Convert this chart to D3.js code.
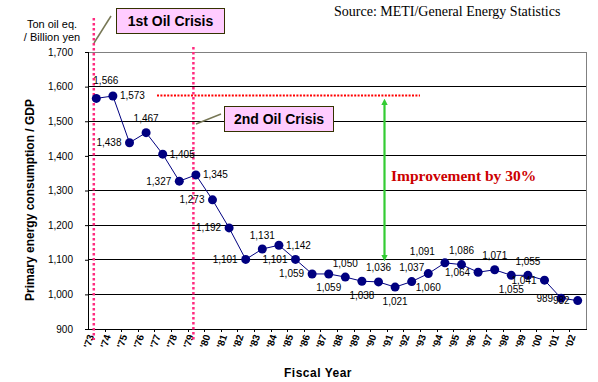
<!DOCTYPE html>
<html><head><meta charset="utf-8">
<script src="https://cdn.jsdelivr.net/npm/d3@7"></script>
<style>
html,body{margin:0;padding:0;background:#fff;}
svg{display:block;font-family:"Liberation Sans",Arial,sans-serif;}
</style></head>
<body>
<script>
// ---- data ----
const years = ["'73","'74","'75","'76","'77","'78","'79","'80","'81","'82","'83","'84","'85","'86","'87","'88","'89","'90","'91","'92","'93","'94","'95","'96","'97","'98","'99","'00","'01","'02"];
const values = [1566,1573,1438,1467,1405,1327,1345,1273,1192,1101,1131,1142,1101,1059,1059,1050,1038,1036,1021,1037,1060,1091,1086,1064,1071,1055,1055,1041,989,982];
const labelPlacement = ["tr","r","l","t","r","l","r","l","l","l","t","r","l","l","b","t","b","t","b","t","b","tl","t","l","t","b","t","l","l","l"];
const yTicks = [900,1000,1100,1200,1300,1400,1500,1600,1700];
const crisisYears = ["'73","'79"];
const crisisLabels = ["1st Oil Crisis","2nd Oil Crisis"];
const baseYear = "'74";
const targetYear = "'90";

const W = 598, H = 382;
const SERIF = '"Liberation Serif","Times New Roman",serif';
const svg = d3.select("body").append("svg").attr("width",W).attr("height",H);

const x = d3.scaleBand().domain(years).range([88,586]).padding(0);
const y = d3.scaleLinear().domain([900,1700]).range([329,52]);
const cx = d => x(d) + x.bandwidth()/2;
const fmt = d3.format(",");

// grid lines
svg.append("g").selectAll("line").data(yTicks.filter(v=>v>900)).join("line")
  .attr("x1",88).attr("x2",586).attr("y1",d=>y(d)).attr("y2",d=>y(d))
  .attr("stroke",d=>d===1700?"#808080":"#000").attr("stroke-width",1)
  .attr("shape-rendering","crispEdges");
// right border
svg.append("line").attr("x1",586).attr("x2",586).attr("y1",y(1700)).attr("y2",y(900))
  .attr("stroke","#808080").attr("shape-rendering","crispEdges");

// y axis
const yAxis = d3.axisLeft(y).tickValues(yTicks).tickFormat(fmt).tickSize(3).tickPadding(12);
const ga = svg.append("g").attr("transform","translate(88,0)").call(yAxis);
ga.attr("font-family",null);
ga.select(".domain").attr("stroke","#000").attr("shape-rendering","crispEdges");
ga.selectAll("text").attr("font-size",10).attr("fill","#000");
ga.selectAll(".tick line").attr("stroke","#000");

// x axis
const xAxis = d3.axisBottom(x).tickSize(0).tickFormat(d=>d);
const gx = svg.append("g").attr("transform","translate(0,329)").call(xAxis);
gx.attr("font-family",null);
gx.select(".domain").attr("stroke","#000").attr("shape-rendering","crispEdges");
gx.selectAll(".tick text").attr("font-size",10).attr("font-weight","bold").attr("fill","#000")
  .attr("text-anchor","end").attr("dy",null).attr("y",0)
  .attr("transform","translate(-2,7) rotate(-72)");
// band-boundary ticks
svg.append("g").selectAll("line").data(years.slice(1)).join("line")
  .attr("x1",d=>Math.round(x(d))+0.5).attr("x2",d=>Math.round(x(d))+0.5)
  .attr("y1",329).attr("y2",332).attr("stroke","#000");

// crisis vertical dotted lines
svg.append("g").selectAll("line").data(crisisYears).join("line")
  .attr("x1",d=>cx(d)-2.5).attr("x2",d=>cx(d)-2.5)
  .attr("y1",(d,i)=>i===0?18:47).attr("y2",340)
  .attr("stroke","#ff2a7f").attr("stroke-width",2.5).attr("stroke-dasharray","2.5,2.5");

// horizontal red dotted line at base level
svg.append("line").attr("x1",157).attr("x2",420)
  .attr("y1",y(values[years.indexOf(baseYear)])-0.5).attr("y2",y(values[years.indexOf(baseYear)])-0.5)
  .attr("stroke","#ff0000").attr("stroke-width",2).attr("stroke-dasharray","2,1.4");

// green double arrow
const defs = svg.append("defs");
defs.append("marker").attr("id","ah").attr("viewBox","0 0 10 10").attr("refX",5).attr("refY",5)
  .attr("markerWidth",3).attr("markerHeight",3).attr("orient","auto-start-reverse")
  .append("path").attr("d","M0,0L10,5L0,10z").attr("fill","#33cc33");
svg.append("line").attr("x1",384.5).attr("x2",384.5)
  .attr("y1",y(values[years.indexOf(baseYear)])+6).attr("y2",y(values[years.indexOf(targetYear)])-24)
  .attr("stroke","#33cc33").attr("stroke-width",2.2)
  .attr("marker-start","url(#ah)").attr("marker-end","url(#ah)");

svg.append("text").attr("x",391).attr("y",181).text("Improvement by 30%")
  .style("font-family",SERIF).attr("font-weight","bold")
  .attr("font-size",15.5).attr("fill","#cc0000");

// series line
svg.append("path").datum(values)
  .attr("d",d3.line().x((d,i)=>cx(years[i])).y(d=>y(d)))
  .attr("fill","none").attr("stroke","#000080").attr("stroke-width",1);
svg.append("g").selectAll("circle").data(values).join("circle")
  .attr("cx",(d,i)=>cx(years[i])).attr("cy",d=>y(d)).attr("r",4.5).attr("fill","#000080");

// data labels
const off = {
  t:{dx:0,dy:-14,a:"middle"}, b:{dx:0,dy:14,a:"middle"},
  l:{dx:-8,dy:0,a:"end"}, r:{dx:7,dy:0,a:"start"},
  tr:{dx:-3,dy:-18,a:"start"}, tl:{dx:-10,dy:-11,a:"end"}
};
svg.append("g").selectAll("text").data(values).join("text")
  .attr("x",(d,i)=>cx(years[i])+off[labelPlacement[i]].dx)
  .attr("y",(d,i)=>y(d)+off[labelPlacement[i]].dy)
  .attr("dy","0.35em")
  .attr("text-anchor",(d,i)=>off[labelPlacement[i]].a)
  .attr("font-size",10).attr("fill","#000")
  .text(d=>fmt(d));

// crisis label boxes with leader lines
const boxes = [
  {x:116,y:8,w:108,h:25, lx1:94,ly1:43,lx2:111,ly2:16},
  {x:224,y:106,w:109,h:25, lx1:196,ly1:124,lx2:221,ly2:114}
];
boxes.forEach((b,i)=>{
  svg.append("line").attr("x1",b.lx1).attr("y1",b.ly1).attr("x2",b.lx2).attr("y2",b.ly2)
    .attr("stroke","#777755").attr("stroke-width",1.5);
  svg.append("rect").attr("x",b.x+0.5).attr("y",b.y+0.5).attr("width",b.w).attr("height",b.h)
    .attr("fill","#ffccff").attr("stroke","#333300").attr("stroke-width",1);
  svg.append("text").attr("x",b.x+b.w/2+0.5).attr("y",b.y+b.h/2+1).attr("dy","0.35em")
    .attr("text-anchor","middle").attr("font-weight","bold").attr("font-size",14)
    .attr("fill","#000").text(crisisLabels[i]);
});

// source
svg.append("text").attr("x",334).attr("y",16).text("Source: METI/General Energy Statistics")
  .style("font-family",SERIF).attr("font-size",14).attr("fill","#000");

// unit label
svg.append("text").attr("x",52).attr("y",28).attr("text-anchor","middle").attr("font-size",11).text("Ton oil eq.");
svg.append("text").attr("x",52).attr("y",41).attr("text-anchor","middle").attr("font-size",11).text("/ Billion yen");

// axis titles
svg.append("text").attr("transform","translate(34,200) rotate(-90)").attr("text-anchor","middle")
  .attr("font-weight","bold").attr("font-size",12).text("Primary energy consumption / GDP");
svg.append("text").attr("x",318).attr("y",377).attr("text-anchor","middle")
  .attr("font-weight","bold").attr("font-size",12).attr("letter-spacing","0.5").text("Fiscal Year");
</script>
</body></html>
